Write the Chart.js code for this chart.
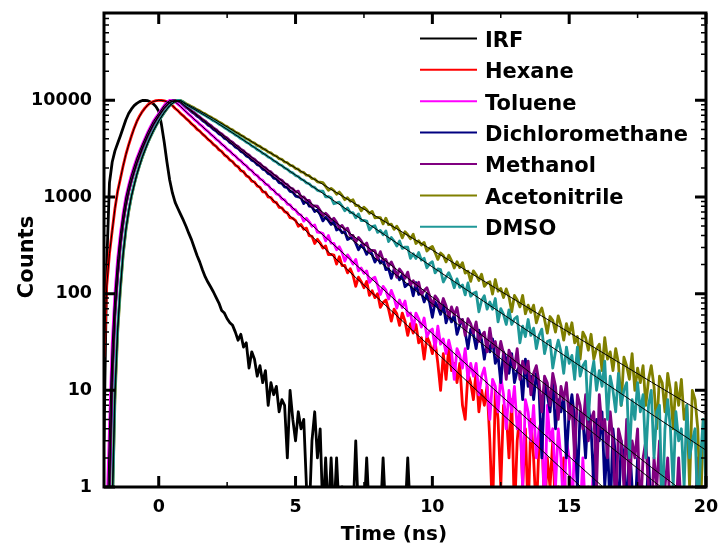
<!DOCTYPE html>
<html>
<head>
<meta charset="utf-8">
<script src="https://cdn.jsdelivr.net/npm/chart.js@4.4.1/dist/chart.umd.min.js"></script>
<style>
  html, body { margin: 0; padding: 0; background: #fff; }
  #wrap { width: 719px; height: 552px; }
</style>
</head>
<body>
<div id="wrap"><canvas id="decayChart" width="719" height="552"></canvas></div>
<script>
// TCSPC channels: first channel at -2 ns, 0.1 ns wide
const T0 = -2;
const DT = 0.1;

const names = ["IRF", "Hexane", "Toluene", "Dichloromethane", "Methanol", "Acetonitrile", "DMSO"];
const xTicks = [0, 5, 10, 15, 20];
const yTicks = [1, 10, 100, 1000, 10000];

// counts per channel
const irf = [
  3, 200, 1400, 2300, 3000, 3600, 4300, 5200, 6300, 7300,
  8100, 8800, 9300, 9700, 9950, 10000, 9900, 9600, 9200, 8600,
  7700, 5600, 3700, 2300, 1500, 1100, 880, 760, 660, 575,
  495, 420, 360, 298, 248, 212, 176, 149, 131, 117,
  104, 91, 80, 67, 63, 55, 50, 47, 40, 33,
  38, 28, 31, 17, 25, 21, 14, 18, 12, 16,
  7, 12, 9, 11, 6, 8, 7, 2, 10, 5,
  3, 6, 4, 5, 1, 0, 3, 6, 2, 4,
  0, 2, 0, 2, 0, 2, 0, 1, 0, 0,
  0, 0, 3, 0, 0, 0, 2, 0, 0, 0,
  0, 0, 2, 0, 0, 0, 0, 0, 0, 0,
  0, 2, 0
];
const hexane = [
  22, 120, 260, 450, 760, 1150, 1550, 2100, 2750, 3450,
  4250, 5150, 6050, 6900, 7650, 8350, 8950, 9400, 9720, 9920,
  10000, 9980, 9880, 9680, 9320, 8840, 8230, 7820, 7270, 6920,
  6460, 6130, 5690, 5420, 5020, 4800, 4470, 4240, 3940, 3760,
  3490, 3340, 3080, 2960, 2720, 2610, 2410, 2320, 2130, 2060,
  1870, 1830, 1660, 1600, 1460, 1430, 1300, 1260, 1130, 1120,
  1000, 985, 895, 875, 780, 770, 705, 685, 610, 600,
  571, 498, 520, 464, 476, 398, 392, 330, 365, 334,
  296, 312, 253, 255, 251, 202, 241, 195, 196, 164,
  181, 155, 119, 148, 133, 115, 134, 96, 107, 91,
  100, 72, 81, 86, 69, 52, 69, 62, 47, 63,
  52, 37, 49, 39, 48, 31, 35, 21, 36, 31,
  24, 32, 19, 10, 24, 13, 28, 16, 19, 12,
  19, 7, 5, 15, 12, 8, 16, 6, 10, 7,
  11, 3, 0, 10, 5, 1, 7, 6, 2, 8,
  0, 3, 6, 1, 4, 0, 5, 2, 0, 3,
  4, 0, 2, 1, 3, 0, 1, 0, 2, 0
];
const toluene = [
  0, 0, 4, 30, 100, 230, 420, 680, 1000, 1320,
  1680, 2080, 2520, 2980, 3480, 4050, 4680, 5350, 6030, 6680,
  7300, 8050, 8850, 9550, 10000, 9920, 9620, 9130, 8620, 8090,
  7610, 7140, 6780, 6330, 6030, 5630, 5360, 5000, 4770, 4450,
  4240, 3950, 3780, 3510, 3360, 3120, 2990, 2770, 2660, 2460,
  2370, 2190, 2110, 1940, 1880, 1720, 1670, 1530, 1490, 1360,
  1330, 1210, 1180, 1075, 1050, 955, 935, 845, 830, 752,
  735, 665, 651, 563, 602, 554, 498, 514, 432, 429,
  419, 352, 399, 333, 331, 285, 305, 267, 217, 252,
  229, 202, 226, 172, 184, 162, 172, 131, 142, 148,
  122, 98, 119, 109, 88, 108, 91, 71, 86, 72,
  84, 59, 63, 43, 63, 55, 45, 56, 36, 41,
  43, 27, 46, 30, 34, 24, 33, 25, 13, 27,
  23, 17, 27, 13, 19, 14, 19, 9, 14, 17,
  11, 5, 13, 11, 6, 14, 9, 4, 10, 6,
  11, 4, 6, 1, 8, 6, 3, 7, 2, 4,
  5, 0, 7, 3, 4, 1, 4, 2, 0, 3,
  2, 0, 3, 1, 0, 2, 0, 1, 0, 2,
  0, 1, 0
];
const dichloromethane = [
  0, 0, 1, 15, 65, 165, 330, 560, 840, 1150,
  1480, 1850, 2270, 2720, 3200, 3750, 4330, 4950, 5600, 6250,
  6900, 7600, 8300, 8950, 9500, 9850, 10000, 9880, 9520, 9000,
  8470, 8090, 7620, 7290, 6860, 6570, 6180, 5930, 5560, 5340,
  5010, 4820, 4510, 4340, 4060, 3920, 3650, 3530, 3290, 3180,
  2960, 2870, 2660, 2580, 2400, 2330, 2160, 2100, 1940, 1890,
  1750, 1700, 1570, 1540, 1410, 1385, 1270, 1250, 1140, 1125,
  1022, 1005, 979, 854, 925, 804, 793, 707, 732, 660,
  566, 619, 573, 520, 555, 456, 471, 426, 439, 363,
  377, 382, 332, 285, 318, 295, 255, 287, 253, 212,
  237, 207, 225, 177, 182, 144, 178, 160, 139, 157,
  118, 125, 127, 95, 130, 98, 103, 82, 99, 81,
  57, 82, 73, 61, 79, 50, 61, 51, 60, 38,
  47, 54, 40, 27, 43, 38, 27, 42, 33, 21,
  33, 25, 34, 19, 23, 12, 25, 21, 15, 24,
  12, 16, 18, 8, 21, 11, 14, 8, 15, 10,
  2, 12, 9, 6, 13, 4, 8, 6, 9, 2,
  6, 9, 5, 1, 6, 5, 2, 7, 4, 1,
  5, 3, 6, 1, 3, 0, 4, 2, 0, 3,
  2, 0, 3, 1, 0, 2, 0, 1, 0, 2,
  0, 1, 0, 0, 1, 0
];
const methanol = [
  0, 0, 1, 12, 58, 155, 315, 540, 815, 1120,
  1450, 1820, 2230, 2680, 3160, 3700, 4280, 4900, 5550, 6200,
  6850, 7550, 8250, 8900, 9450, 9830, 10000, 9920, 9650, 9200,
  8610, 8230, 7770, 7440, 7020, 6730, 6340, 6090, 5730, 5500,
  5180, 4980, 4680, 4500, 4220, 4070, 3820, 3680, 3450, 3330,
  3120, 3010, 2810, 2720, 2540, 2460, 2300, 2220, 2070, 2010,
  1870, 1820, 1690, 1645, 1530, 1490, 1380, 1345, 1245, 1215,
  1122, 1151, 998, 1001, 923, 924, 806, 809, 802, 723,
  645, 678, 635, 570, 603, 546, 482, 508, 458, 475,
  401, 400, 341, 381, 351, 314, 334, 275, 280, 278,
  228, 272, 224, 226, 193, 213, 185, 148, 180, 164,
  144, 167, 124, 136, 120, 131, 98, 108, 115, 95,
  75, 95, 87, 70, 89, 75, 57, 73, 60, 72,
  50, 54, 37, 55, 49, 39, 51, 32, 37, 40,
  25, 44, 28, 32, 22, 32, 24, 13, 26, 22,
  17, 27, 13, 20, 15, 20, 9, 15, 18, 12,
  6, 14, 12, 7, 15, 11, 5, 11, 8, 12,
  5, 7, 2, 9, 7, 4, 9, 3, 5, 6,
  1, 9, 4, 5, 2, 6, 3, 0, 4, 3,
  1, 5, 1, 3, 2, 4, 0, 2, 3, 1,
  0, 2, 1, 3, 0, 1, 2, 0, 1, 0,
  2, 0, 1, 0, 0, 1, 0, 2, 0, 1,
  0
];
const acetonitrile = [
  0, 0, 0, 0, 8, 40, 110, 250, 450, 700,
  1000, 1330, 1700, 2120, 2580, 3080, 3620, 4200, 4800, 5450,
  6100, 6750, 7450, 8150, 8800, 9350, 9750, 10000, 9950, 9650,
  9210, 8950, 8600, 8350, 8010, 7790, 7450, 7240, 6920, 6730,
  6430, 6250, 5950, 5780, 5500, 5340, 5070, 4940, 4690, 4570,
  4340, 4220, 4000, 3910, 3700, 3610, 3420, 3340, 3160, 3090,
  2920, 2860, 2700, 2650, 2490, 2450, 2300, 2265, 2125, 2095,
  1965, 1940, 1815, 1795, 1680, 1660, 1550, 1535, 1435, 1420,
  1405, 1287, 1173, 1228, 1167, 1067, 1125, 1038, 938, 982,
  904, 935, 815, 815, 718, 784, 736, 675, 710, 609,
  616, 613, 527, 604, 517, 523, 462, 499, 448, 378,
  437, 407, 369, 411, 330, 353, 319, 339, 276, 295,
  308, 266, 226, 263, 248, 213, 250, 220, 184, 214,
  186, 209, 163, 171, 134, 172, 157, 137, 159, 119,
  129, 133, 99, 140, 106, 113, 91, 112, 93, 65,
  96, 86, 73, 96, 62, 76, 64, 76, 50, 62,
  71, 54, 39, 58, 53, 40, 59, 47, 33, 49,
  38, 50, 31, 36, 21, 40, 35, 26, 38, 21,
  27, 30, 16, 35, 21, 25, 16, 27, 19, 7,
  22, 18, 13, 24, 10, 17, 12, 18, 7, 13,
  18, 11, 4, 14, 12, 6, 15, 10, 4, 12,
  7, 13, 5, 7, 1, 10, 8, 4, 0, 5,
  3
];
const dmso = [
  0, 0, 0, 0, 10, 45, 120, 265, 470, 720,
  1020, 1350, 1720, 2140, 2600, 3100, 3640, 4220, 4830, 5480,
  6130, 6780, 7480, 8180, 8820, 9370, 9770, 10000, 9930, 9560,
  9000, 8740, 8400, 8150, 7760, 7520, 7200, 6980, 6670, 6440,
  6140, 5950, 5660, 5470, 5200, 5030, 4780, 4620, 4380, 4240,
  4020, 3890, 3680, 3570, 3370, 3270, 3090, 2995, 2825, 2745,
  2590, 2515, 2370, 2305, 2170, 2115, 1990, 1935, 1820, 1775,
  1665, 1630, 1525, 1490, 1398, 1370, 1280, 1255, 1170, 1150,
  1149, 1002, 1011, 981, 851, 867, 883, 806, 721, 769,
  688, 687, 608, 669, 570, 572, 564, 457, 493, 504,
  430, 450, 407, 445, 346, 381, 349, 311, 350, 294,
  303, 302, 232, 259, 231, 266, 222, 232, 185, 204,
  214, 164, 180, 177, 132, 149, 165, 142, 115, 142,
  116, 123, 97, 129, 94, 101, 104, 65, 85, 95,
  69, 82, 69, 89, 51, 70, 61, 48, 68, 48,
  55, 58, 31, 46, 36, 54, 37, 44, 27, 37,
  43, 24, 32, 33, 17, 25, 33, 25, 15, 28,
  19, 23, 13, 28, 14, 18, 20, 5, 14, 20,
  10, 16, 11, 20, 5, 14, 10, 6, 15, 7,
  10, 12, 2, 8, 5, 12, 6, 9, 2, 7,
  10, 2, 6, 7, 0, 4, 8, 4, 1, 6,
  3, 4, 1, 7, 2, 3, 4, 0, 2, 5,
  1
];

// fitted decay curves (thin black lines)
const fitTimes = [-2, -1.9, -1.8, -1.7, -1.6, -1.5, -1.4, -1.3, -1.2, -1.1, -1, -0.8, -0.6, -0.4, -0.2,
  0, 0.2, 0.4, 0.6, 0.8, 1, 1.5, 2, 2.5, 3, 3.5, 4, 5, 6, 8, 10, 12, 14, 16, 18, 20];
const hexaneFit = [22, 120, 260, 450, 760, 1150, 1550, 2100, 2750, 3450, 4250, 6050, 7650, 8950, 9720,
  10000, 9880, 9340, 8270, 7320, 6480, 4770, 3520, 2590, 1910, 1410, 1036, 563, 306, 90, 27, 7.9, 2.4, 0.71, 0.21, 0.063];
const tolueneFit = [0.05, 0.3, 4, 30, 100, 230, 420, 680, 1000, 1320, 1680, 2520, 3480, 4680, 6030,
  7300, 8850, 10000, 9620, 8620, 7590, 5660, 4220, 3150, 2350, 1750, 1310, 728, 405, 125, 38.6, 11.9, 3.7, 1.15, 0.35, 0.11];
const dichloromethaneFit = [0.02, 0.1, 1, 15, 65, 165, 330, 560, 840, 1150, 1480, 2270, 3200, 4330, 5600,
  6900, 8300, 9500, 10000, 9520, 8490, 6545, 5045, 3890, 3000, 2310, 1780, 1060, 629, 222, 78.4, 27.6, 9.7, 3.4, 1.2, 0.43];
const methanolFit = [0.02, 0.1, 1, 12, 58, 155, 315, 540, 815, 1120, 1450, 2230, 3160, 4280, 5550,
  6850, 8250, 9450, 10000, 9650, 8630, 6706, 5210, 4049, 3146, 2445, 1900, 1147, 693, 253, 92, 33.7, 12.3, 4.5, 1.6, 0.6];
const acetonitrileFit = [0.001, 0.005, 0.03, 0.5, 8, 40, 110, 250, 450, 700, 1000, 1700, 2580, 3620, 4800,
  6100, 7450, 8800, 9750, 9950, 9230, 7760, 6460, 5310, 4365, 3590, 2952, 1995, 1349, 616, 282, 129, 58.7, 26.8, 12.2, 5.6];
const dmsoFit = [0.001, 0.01, 0.05, 0.8, 10, 45, 120, 265, 470, 720, 1020, 1720, 2600, 3640, 4830,
  6130, 7480, 8820, 9770, 9930, 9020, 7500, 6170, 5010, 4046, 3251, 2612, 1687, 1089, 454, 189, 79, 32.9, 13.7, 5.7, 2.4];

// ---- styling ----
const colors = ["#000000", "#ff0000", "#ff00ff", "#000080", "#800080", "#808000", "#1f9898"];
const FONT = '"DejaVu Sans", Arial, sans-serif';
// zero counts cannot sit on a log axis: send them just below the bottom edge
const ZERO_FLOOR = 0.5;

const traces = [irf, hexane, toluene, dichloromethane, methanol, acetonitrile, dmso];
const fits = [null, hexaneFit, tolueneFit, dichloromethaneFit, methanolFit, acetonitrileFit, dmsoFit];
const times = Array.from({ length: 221 }, (_, i) => Math.round((T0 + i * DT) * 10) / 10);

const datasets = traces.map((vals, k) => ({
    label: names[k],
    data: vals.map((v, i) => ({ x: times[i], y: v > 0 ? v : ZERO_FLOOR })),
    borderColor: colors[k],
    borderWidth: 2.8,
    borderJoinStyle: "round",
    pointRadius: 0,
    fill: false,
    order: traces.length - k
}));
fits.forEach((f, k) => {
    if (!f) return;
    datasets.push({
        label: names[k] + " fit",
        data: f.map((v, i) => ({ x: fitTimes[i], y: v })),
        borderColor: "#000",
        borderWidth: 1,
        pointRadius: 0,
        fill: false,
        order: 0
    });
});

// AXIS FRAME, LEGEND AND TITLES
const framePlugin = {
    id: "frame",
    afterDatasetsDraw(chart) {
        const { ctx, chartArea: a, scales: { x, y } } = chart;
        ctx.save();
        ctx.strokeStyle = "#000";
        ctx.lineCap = "butt";

        // minor ticks
        ctx.lineWidth = 1.5;
        ctx.beginPath();
        [2.5, 7.5, 12.5, 17.5].forEach(v => {
            const px = x.getPixelForValue(v);
            ctx.moveTo(px, a.bottom); ctx.lineTo(px, a.bottom - 5);
            ctx.moveTo(px, a.top); ctx.lineTo(px, a.top + 5);
        });
        yTicks.forEach(d => {
            for (let m = 2; m <= 9; m++) {
                const v = d * m;
                if (v > y.max) break;
                const py = y.getPixelForValue(v);
                ctx.moveTo(a.left, py); ctx.lineTo(a.left + 5, py);
                ctx.moveTo(a.right, py); ctx.lineTo(a.right - 5, py);
            }
        });
        ctx.stroke();

        // major ticks
        ctx.lineWidth = 3;
        ctx.beginPath();
        xTicks.forEach(v => {
            const px = x.getPixelForValue(v);
            ctx.moveTo(px, a.bottom); ctx.lineTo(px, a.bottom - 11);
            ctx.moveTo(px, a.top); ctx.lineTo(px, a.top + 11);
        });
        yTicks.forEach(v => {
            const py = y.getPixelForValue(v);
            ctx.moveTo(a.left, py); ctx.lineTo(a.left + 11, py);
            ctx.moveTo(a.right, py); ctx.lineTo(a.right - 11, py);
        });
        ctx.stroke();

        ctx.strokeRect(a.left, a.top, a.right - a.left, a.bottom - a.top);
        ctx.restore();
    },
    afterDraw(chart) {
        const { ctx, chartArea: a } = chart;
        ctx.save();
        ctx.fillStyle = "#000";

        // legend inside the plot, top right
        const lx = a.right - 286, ty = a.top + 33.7, step = 31.4;
        ctx.font = "bold 21px " + FONT;
        ctx.textAlign = "left";
        ctx.textBaseline = "alphabetic";
        names.forEach((name, k) => {
            const base = ty + k * step;
            ctx.strokeStyle = colors[k];
            ctx.lineWidth = 2;
            ctx.beginPath();
            ctx.moveTo(lx, base - 8.3);
            ctx.lineTo(lx + 57, base - 8.3);
            ctx.stroke();
            ctx.fillText(name, lx + 65, base);
        });

        // axis titles
        ctx.textAlign = "center";
        ctx.font = "bold 20px " + FONT;
        ctx.fillText("Time (ns)", a.left + 290, 540);
        ctx.translate(33, 257);
        ctx.rotate(-Math.PI / 2);
        ctx.font = "bold 21px " + FONT;
        ctx.fillText("Counts", 0, 0);
        ctx.restore();
    }
};

const tickFont = { family: FONT, size: 17.5, weight: "bold" };

new Chart(document.getElementById("decayChart"), {
    type: "line",
    data: { datasets },
    options: {
        responsive: false,
        animation: false,
        events: [],
        layout: { padding: { top: 13, right: 13, left: 0, bottom: 0 } },
        plugins: { legend: { display: false }, tooltip: { enabled: false } },
        scales: {
            x: {
                type: "linear",
                min: -2,
                max: 20,
                grid: { display: false, drawTicks: false },
                border: { display: false },
                ticks: { font: tickFont, color: "#000", padding: 10, maxRotation: 0, autoSkip: false, callback: v => String(v) },
                afterBuildTicks: s => { s.ticks = xTicks.map(v => ({ value: v })); },
                afterFit: s => { s.height = 65; s.paddingLeft = 0; s.paddingRight = 0; }
            },
            y: {
                type: "logarithmic",
                min: 1,
                max: 80000,
                grid: { display: false, drawTicks: false },
                border: { display: false },
                ticks: { font: tickFont, color: "#000", padding: 12, autoSkip: false, callback: v => String(v) },
                afterBuildTicks: s => { s.ticks = yTicks.map(v => ({ value: v })); },
                afterFit: s => { s.width = 104; s.paddingTop = 0; s.paddingBottom = 0; }
            }
        }
    },
    plugins: [framePlugin]
});
</script>
</body>
</html>
